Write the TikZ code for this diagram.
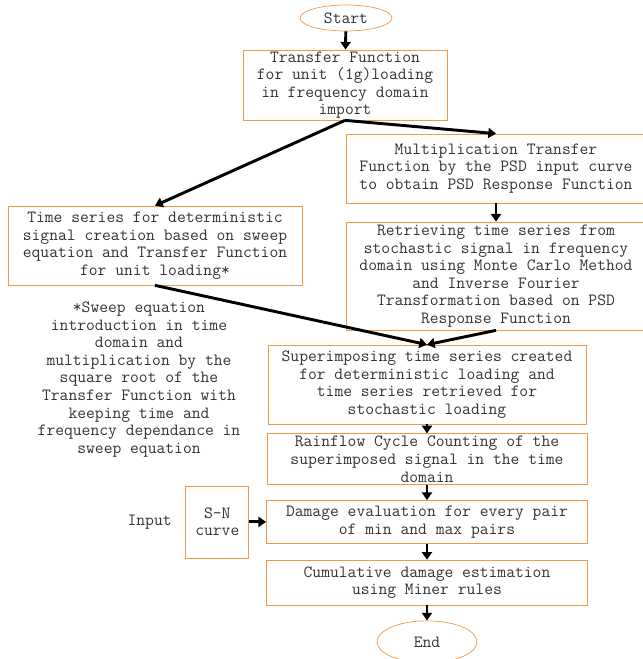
\documentclass[tikz,border=0pt]{standalone}
\usepackage{fontspec}
\usetikzlibrary{arrows.meta,positioning,shapes.geometric}
\definecolor{boxorange}{RGB}{247,150,70}

\begin{document}
\begin{tikzpicture}[
    x=0.03cm, y=-0.03cm,
    txt/.style={align=center, text=black!80, font=\ttfamily\fontsize{14.6}{15}\selectfont},
    box/.style={txt, draw=boxorange, line width=0.6pt, inner sep=0pt},
    term/.style={txt, draw=boxorange, line width=0.6pt, ellipse, inner sep=0pt},
    link/.style={-{Triangle[length=2.3mm, width=3mm]}, line width=2.5pt}
]
\useasboundingbox (0,0) rectangle (643,659);
\node[term, minimum width=2.76cm, minimum height=0.78cm] (start) at (346,18) {Start};
\node[box, minimum width=6.12cm, minimum height=2.1cm] (tf) at (345,85)
    {Transfer Function\\for unit (1g)loading\\in frequency domain\\import};
\node[box, minimum width=9cm, minimum height=2.07cm] (mult) at (496,168.5)
    {Multiplication Transfer\\Function by the PSD input curve\\to obtain PSD Response Function};
\node[box, minimum width=9cm, minimum height=3.24cm] (retr) at (496,276)
    {Retrieving time series from\\stochastic signal in frequency\\domain using Monte Carlo Method\\and Inverse Fourier\\Transformation based on PSD\\Response Function};
\node[box, minimum width=8.82cm, minimum height=2.37cm] (ts) at (155,245.5)
    {Time series for deterministic\\signal creation based on sweep\\equation and Transfer Function\\for unit loading*};
\node[txt] (note) at (139,379.5)
    {*Sweep equation\\introduction in time\\domain and\\multiplication by the\\square root of the\\Transfer Function with\\keeping time and\\frequency dependance in\\sweep equation};
\node[box, minimum width=9.54cm, minimum height=2.37cm] (sup) at (427,384.5)
    {Superimposing time series created\\for deterministic loading and\\time series retrieved for\\stochastic loading};
\node[box, below=0.27cm of sup, minimum width=9.6cm, minimum height=1.53cm] (rain)
    {Rainflow Cycle Counting of the\\superimposed signal in the time\\domain};
\node[box, below=0.45cm of rain, minimum width=9.63cm, minimum height=1.29cm] (dmg)
    {Damage evaluation for every pair\\of min and max pairs};
\node[box, below=0.48cm of dmg, minimum width=9.63cm, minimum height=1.35cm] (cum)
    {Cumulative damage estimation\\using Miner rules};
\node[term, below=0.45cm of cum, minimum width=3cm, minimum height=1.26cm] (end) {End};
\node[box, left=0.51cm of dmg, minimum width=1.89cm, minimum height=2.16cm] (sn) {S-N\\curve};
\node[txt, left=0.29cm of sn] (input) {Input};

\draw[link] (start) -- (tf);
\draw[link] (tf.south) -- (mult.north);
\draw[link] (tf.south) -- (ts.north);
\draw[link] (mult) -- (retr);
\draw[link] (ts.south) -- (sup.north);
\draw[link] (retr.south) -- (sup.north);
\draw[link] (sup) -- (rain);
\draw[link] (rain) -- (dmg);
\draw[link] (dmg) -- (cum);
\draw[link] (cum) -- (end);
\draw[link] (sn) -- (dmg);
\end{tikzpicture}
\end{document}
